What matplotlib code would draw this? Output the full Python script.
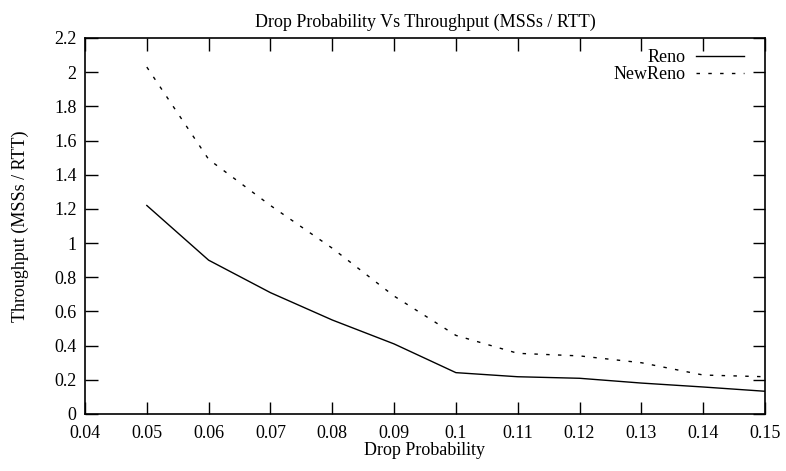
import matplotlib
matplotlib.use("Agg")
import matplotlib.pyplot as plt

plt.rcParams["font.family"] = ["Liberation Serif", "DejaVu Serif"]
plt.rcParams["font.size"] = 13

drop_prob = [0.05, 0.06, 0.07, 0.08, 0.09, 0.10, 0.11, 0.12, 0.13, 0.14, 0.15]
reno = [1.22, 0.90, 0.71, 0.55, 0.41, 0.242, 0.218, 0.209, 0.181, 0.158, 0.133]
newreno = [2.03, 1.49, 1.22, 0.97, 0.69, 0.46, 0.355, 0.34, 0.30, 0.228, 0.218]
xticks = [0.04, 0.05, 0.06, 0.07, 0.08, 0.09, 0.10, 0.11, 0.12, 0.13, 0.14, 0.15]
xlabels = ["0.04", "0.05", "0.06", "0.07", "0.08", "0.09", "0.1", "0.11", "0.12", "0.13", "0.14", "0.15"]
yticks = [0, 0.2, 0.4, 0.6, 0.8, 1.0, 1.2, 1.4, 1.6, 1.8, 2.0, 2.2]
ylabels = ["0", "0.2", "0.4", "0.6", "0.8", "1", "1.2", "1.4", "1.6", "1.8", "2", "2.2"]

fig = plt.figure(figsize=(7.86, 4.71), dpi=100)
ax = fig.add_axes([85 / 786, 1 - 414 / 471, 680 / 786, 376 / 471])

ax.plot(drop_prob, reno, color="black", lw=1.0, label="Reno")
ax.plot(drop_prob, newreno, color="black", lw=1.0, linestyle=(0, (2.5, 6)), label="NewReno")

ax.set_xlim(0.04, 0.15)
ax.set_ylim(0, 2.2)
ax.set_xticks(xticks, xlabels)
ax.set_yticks(yticks, ylabels)
ax.tick_params(direction="in", length=9, width=1, top=True, right=True)
ax.tick_params(axis="x", pad=8)
ax.tick_params(axis="y", pad=6)
for s in ax.spines.values():
    s.set_linewidth(1.2)

ax.set_title("Drop Probability Vs Throughput (MSSs / RTT)", fontsize=13, pad=8)
ax.set_xlabel("Drop Probability", labelpad=0)
ax.set_ylabel("Throughput (MSSs / RTT)", labelpad=18)

ax.legend(loc="upper right", bbox_to_anchor=(1 - 10 / 680, 1.0), frameon=False,
          markerfirst=False, handlelength=2.65, labelspacing=0.0,
          borderaxespad=0.2, handletextpad=0.6)

fig.savefig("out.png", dpi=100)
